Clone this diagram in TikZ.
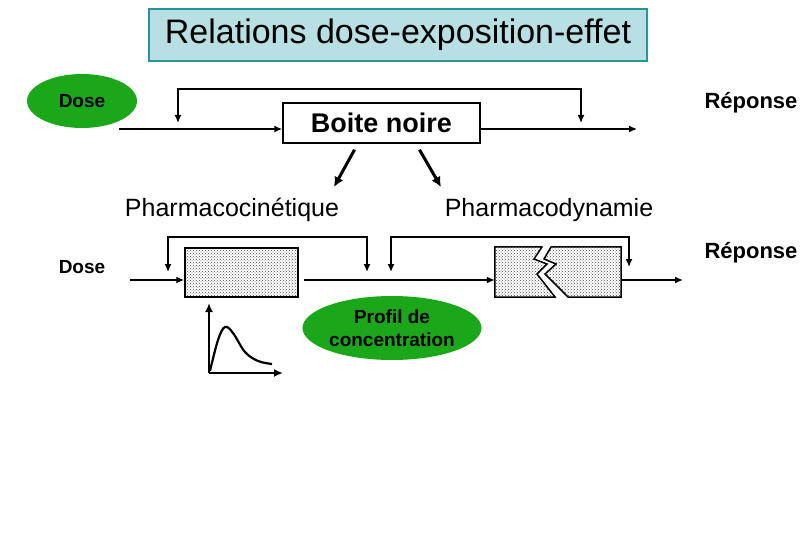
\documentclass[tikz,border=0pt]{standalone}
\usepackage{fontspec}
\setmainfont{Liberation Sans}
\usetikzlibrary{shapes, arrows.meta, positioning, shapes.geometric, patterns}

\definecolor{titlefill}{RGB}{184,223,228}
\definecolor{titledraw}{RGB}{40,150,150}
\definecolor{dosegreen}{RGB}{26,168,26}

\begin{document}
\begin{tikzpicture}[x=1pt, y=-1pt,
    green node/.style={ellipse, fill=dosegreen, inner sep=0pt},
    box node/.style={rectangle, draw, line width=1.5pt, inner sep=0pt},
    dotted fill/.style={pattern=crosshatch dots, pattern color=black!70},
    flow/.style={-{Latex[length=8pt,width=7pt]}, line width=1.4pt},
    feedback/.style={{Latex[length=8pt,width=7pt]}-{Latex[length=8pt,width=7pt]}, line width=1.4pt},
    big arrow/.style={-{Latex[length=10pt,width=10pt]}, line width=3pt}
    ]

    \useasboundingbox (0,0) rectangle (810,540);

    % titre
    \node[rectangle, draw=titledraw, fill=titlefill, line width=2pt, minimum width=498pt, minimum height=52pt] (TITLE) at (398,35) {\fontsize{34}{38}\selectfont Relations dose-exposition-effet};

    % boite noire
    \node[green node, minimum width=110pt, minimum height=54pt] (DOSE1) at (82,101) {\fontsize{19}{22}\selectfont\bfseries Dose};
    \node[box node, minimum width=197pt, minimum height=40pt] (BN) at (381.5,123) {\fontsize{27}{30}\selectfont\bfseries Boite noire};
    \node (REP1) at (751,103) {\fontsize{22}{26}\selectfont\bfseries Réponse};

    \coordinate (IN1) at (119,129);
    \coordinate (OUT1) at (637,129);
    \coordinate (FB1a) at (178,123);
    \coordinate (FB1b) at (581,123);

    \draw[flow] (IN1) -- (IN1 -| BN.west);
    \draw[flow] (OUT1 -| BN.east) -- (OUT1);
    \draw[feedback] (FB1a) -- ++(0,-34) -| (FB1b);

    \node (PK) at (232,210) {\fontsize{25}{28}\selectfont Pharmacocinétique};
    \node (PD) at (549,210) {\fontsize{25}{28}\selectfont Pharmacodynamie};

    \coordinate (PKe) at (334,187);
    \coordinate (PDe) at (441,187);
    \draw[big arrow] ([xshift=-27pt,yshift=-6pt]BN.south) -- (PKe);
    \draw[big arrow] ([xshift=38pt,yshift=-6pt]BN.south) -- (PDe);

    % PK / PD
    \node (DOSE2) at (82,267) {\fontsize{19}{22}\selectfont\bfseries Dose};
    \node[box node, dotted fill, minimum width=113pt, minimum height=49pt] (PKBOX) at (241.5,272.5) {};
    \node[minimum width=126pt, minimum height=50pt, inner sep=0pt] (PDBOX) at (558,272) {};
    \node (REP2) at (751,253) {\fontsize{22}{26}\selectfont\bfseries Réponse};

    \draw[dotted fill, line width=1.5pt] (PDBOX.north west) -- (542,247) -- (534,259) -- (547,264) -- (537,274) -- (555,297) -- (PDBOX.south west) -- cycle;
    \draw[dotted fill, line width=1.5pt] (551,247) -- (PDBOX.north east) -- (PDBOX.south east) -- (568,297) -- (545,274) -- (556,264) -- (544,259) -- cycle;

    \coordinate (IN2) at (130,280);
    \coordinate (MID2) at (304,280);
    \coordinate (OUT2) at (683,280);
    \coordinate (FB2a) at (168,272);
    \coordinate (FB2b) at (367,272);
    \coordinate (FB3a) at (391,272);
    \coordinate (FB3b) at (629,267);

    \draw[flow] (IN2) -- (IN2 -| PKBOX.west);
    \draw[flow] (MID2) -- (MID2 -| PDBOX.west);
    \draw[flow] (OUT2 -| PDBOX.east) -- (OUT2);
    \draw[feedback] (FB2a) -- ++(0,-35) -| (FB2b);
    \draw[feedback] (FB3a) -- ++(0,-35) -| (FB3b);

    \node[green node, minimum width=179pt, minimum height=64pt, align=center, font=\fontsize{19}{23}\selectfont\bfseries] (PROFIL) at (392,328) {Profil de\\concentration};

    % courbe
    \coordinate (O) at (209,373);
    \draw[line width=2.5pt, -{Latex[length=9pt,width=8pt]}] (O) -- (209,303);
    \draw[line width=2.5pt, -{Latex[length=9pt,width=8pt]}] (O) -- (283,373);
    \draw[line width=2.2pt] plot[smooth, tension=0.6] coordinates {(210,371) (218,340) (225,327) (233,333) (245,352) (258,361) (272,364)};

\end{tikzpicture}
\end{document}
